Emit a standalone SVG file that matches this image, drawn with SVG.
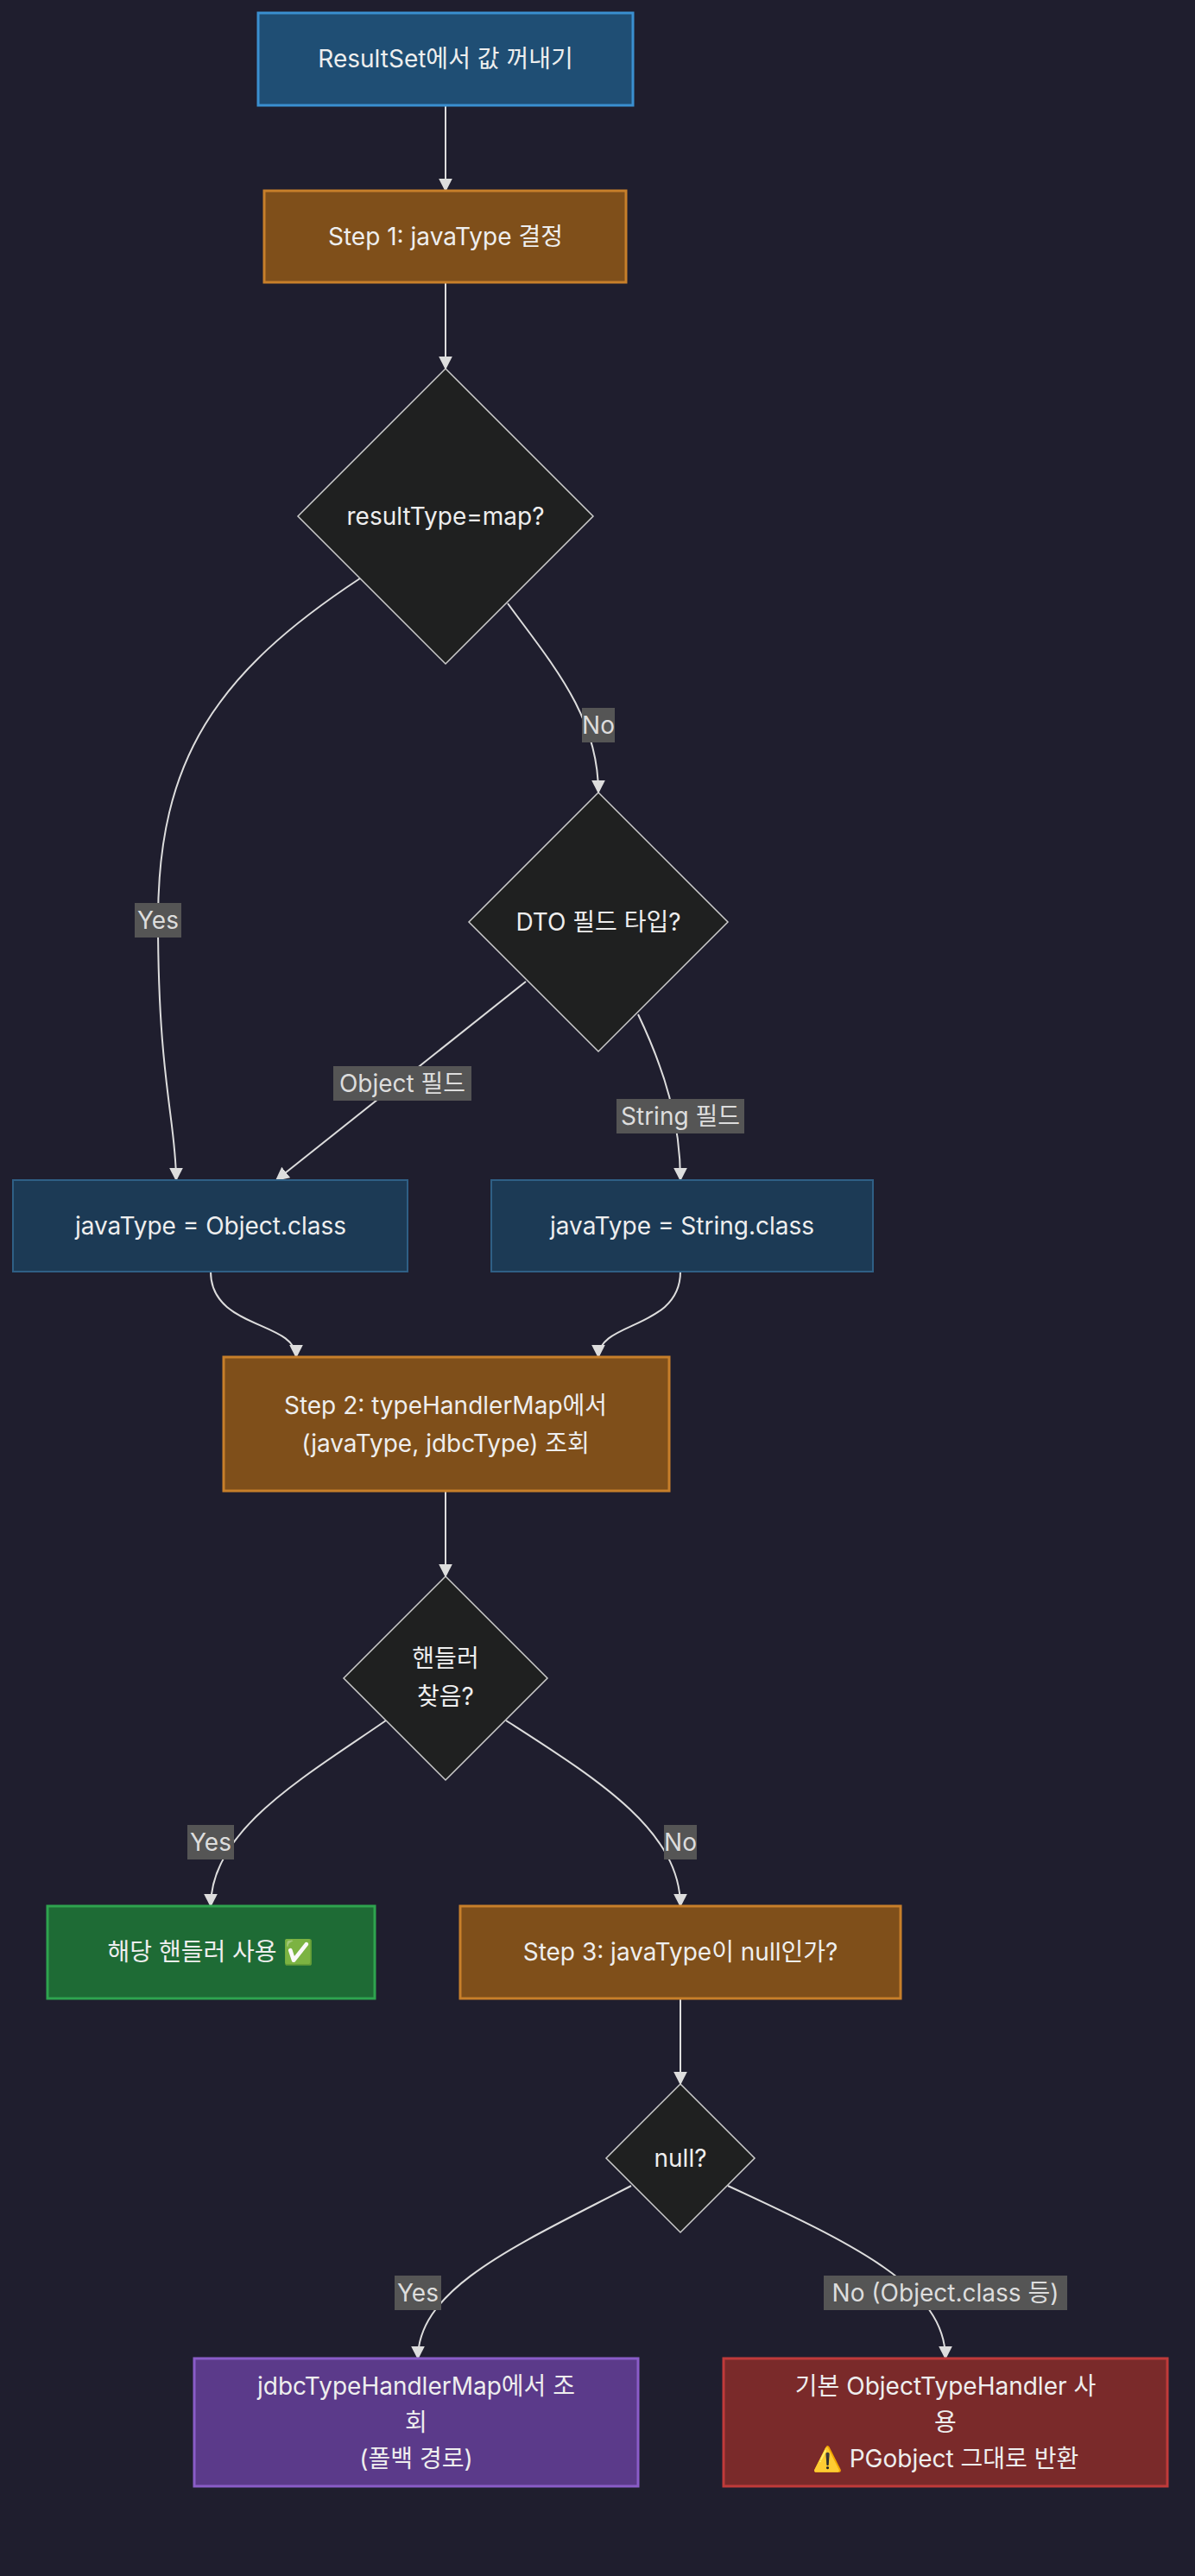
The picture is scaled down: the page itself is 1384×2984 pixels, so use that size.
<svg xmlns="http://www.w3.org/2000/svg" width="1384" height="2984" viewBox="0 0 1384 2984">
<defs>
<style>
text{font-family:"Inter","Noto Sans CJK KR",sans-serif;font-size:28px;fill:#eeeeee;text-anchor:middle;dominant-baseline:central}
.e{fill:none;stroke:#dddddd;stroke-width:2}
.lb{fill:#555555}
.lt{fill:#dddddd}
.d{fill:#1f2020;stroke:#cccccc;stroke-width:1.5}
</style>
<marker id="a" viewBox="0 0 10 10" refX="9" refY="5" markerWidth="8" markerHeight="8" orient="auto"><path d="M0,0L10,5L0,10z" fill="#dddddd"/></marker>
</defs>
<rect width="1384" height="2984" fill="#1f1e2e"/>
<g id="edges">
<path class="e" marker-end="url(#a)" d="M516,122V221"/>
<path class="e" marker-end="url(#a)" d="M516,327V427"/>
<path class="e" marker-end="url(#a)" d="M417,670C250,780 183,880 183,1066C183,1250 204,1300 204,1367"/>
<path class="e" marker-end="url(#a)" d="M588,699C640,770 693,830 693,918"/>
<path class="e" marker-end="url(#a)" d="M609,1137L320,1367"/>
<path class="e" marker-end="url(#a)" d="M739,1175C770,1240 788,1300 788,1367"/>
<path class="e" marker-end="url(#a)" d="M244,1473C244,1540 343,1530 343,1572"/>
<path class="e" marker-end="url(#a)" d="M788,1473C788,1540 693,1530 693,1572"/>
<path class="e" marker-end="url(#a)" d="M516,1727V1826"/>
<path class="e" marker-end="url(#a)" d="M447,1993C350,2060 244,2120 244,2208"/>
<path class="e" marker-end="url(#a)" d="M586,1993C690,2060 788,2120 788,2208"/>
<path class="e" marker-end="url(#a)" d="M788,2315V2414"/>
<path class="e" marker-end="url(#a)" d="M731,2532C600,2600 484,2650 484,2732"/>
<path class="e" marker-end="url(#a)" d="M843,2532C990,2600 1095,2650 1095,2732"/>
<rect class="lb" x="156" y="1046" width="54" height="40"/><text class="lt" x="183" y="1066">Yes</text>
<rect class="lb" x="674" y="820" width="38" height="40"/><text class="lt" x="693" y="840">No</text>
<rect class="lb" x="386" y="1235" width="160" height="40"/><text class="lt" x="466" y="1255">Object 필드</text>
<rect class="lb" x="714" y="1273" width="148" height="40"/><text class="lt" x="788" y="1293">String 필드</text>
<rect class="lb" x="217" y="2114" width="54" height="40"/><text class="lt" x="244" y="2134">Yes</text>
<rect class="lb" x="769" y="2114" width="38" height="40"/><text class="lt" x="788" y="2134">No</text>
<rect class="lb" x="457" y="2636" width="54" height="40"/><text class="lt" x="484" y="2656">Yes</text>
<rect class="lb" x="954" y="2636" width="282" height="40"/><text class="lt" x="1095" y="2656">No (Object.class 등)</text>
</g>
<g id="n1"><rect x="299" y="15" width="434" height="107" fill="#1f4e74" stroke="#3a8fd0" stroke-width="3"/><text x="516" y="68">ResultSet에서 값 꺼내기</text></g>
<g id="n2"><rect x="306" y="221" width="419" height="106" fill="#7f4f1a" stroke="#c77f2a" stroke-width="3"/><text x="516" y="274">Step 1: javaType 결정</text></g>
<g id="n3"><polygon class="d" points="516,427 687,598 516,769 345,598"/><text x="516" y="598">resultType=map?</text></g>
<g id="n4"><polygon class="d" points="693,918 843,1068 693,1218 543,1068"/><text x="693" y="1068">DTO 필드 타입?</text></g>
<g id="n5"><rect x="15" y="1367" width="457" height="106" fill="#1c3a55" stroke="#2f5f85" stroke-width="2"/><text x="244" y="1420">javaType = Object.class</text></g>
<g id="n6"><rect x="569" y="1367" width="442" height="106" fill="#1c3a55" stroke="#2f5f85" stroke-width="2"/><text x="790" y="1420">javaType = String.class</text></g>
<g id="n7"><rect x="259" y="1572" width="516" height="155" fill="#7f4f1a" stroke="#c77f2a" stroke-width="3"/><text x="516" y="1628">Step 2: typeHandlerMap에서</text><text x="516" y="1672">(javaType, jdbcType) 조회</text></g>
<g id="n8"><polygon class="d" points="516,1826 634,1944 516,2062 398,1944"/><text x="516" y="1921">핸들러</text><text x="516" y="1965">찾음?</text></g>
<g id="n9"><rect x="55" y="2208" width="379" height="107" fill="#1e6b35" stroke="#2ea44f" stroke-width="3"/><text x="244" y="2261">해당 핸들러 사용 ✅</text></g>
<g id="n10"><rect x="533" y="2208" width="510" height="107" fill="#7f4f1a" stroke="#c77f2a" stroke-width="3"/><text x="788" y="2261">Step 3: javaType이 null인가?</text></g>
<g id="n11"><polygon class="d" points="788,2414 874,2500 788,2586 702,2500"/><text x="788" y="2500">null?</text></g>
<g id="n12"><rect x="225" y="2732" width="514" height="148" fill="#5b3a8a" stroke="#8a5cc8" stroke-width="3"/><text x="482" y="2764">jdbcTypeHandlerMap에서 조</text><text x="482" y="2806">회</text><text x="482" y="2848">(폴백 경로)</text></g>
<g id="n13"><rect x="838" y="2732" width="514" height="148" fill="#7a2a2a" stroke="#c03a3a" stroke-width="3"/><text x="1095" y="2764">기본 ObjectTypeHandler 사</text><text x="1095" y="2806">용</text><text x="1095" y="2848">⚠️ PGobject 그대로 반환</text></g>
</svg>
